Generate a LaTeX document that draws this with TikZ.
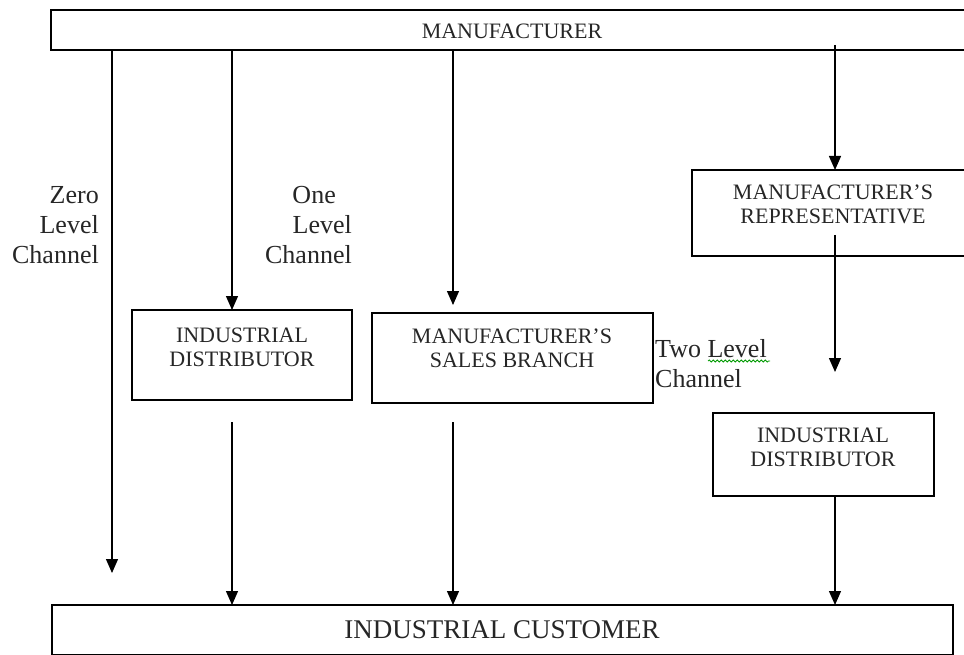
\documentclass[tikz,border=0pt]{standalone}
\usepackage{fontspec}
\setmainfont{Liberation Serif}
\usetikzlibrary{arrows.meta,decorations.pathmorphing}
\begin{document}
\begin{tikzpicture}[x=1pt,y=-1pt,
  boxline/.style={draw=black, line width=1.5pt, inner sep=0pt, outer sep=0pt, anchor=north west},
  boxtext/.style={font=\fontsize{22}{24}\selectfont, align=center, inner sep=0pt, anchor=base, text=black!85},
  lbl/.style={font=\fontsize{26}{30}\selectfont, inner sep=0pt, text=black!85},
  arr/.style={line width=1.3pt, -{Triangle[width=12pt,length=14pt]}}]
\clip (0,0) rectangle (964,655);
% boxes
\node[boxline, minimum width=930pt, minimum height=40pt] (m) at (51,10) {};
\node[boxline, minimum width=300pt, minimum height=86pt] (rep) at (692,170) {};
\node[boxline, minimum width=220pt, minimum height=90pt] (d1) at (132,310) {};
\node[boxline, minimum width=281pt, minimum height=90pt] (sb) at (372,313) {};
\node[boxline, minimum width=221pt, minimum height=83pt] (d2) at (713,413) {};
\node[boxline, minimum width=901pt, minimum height=50pt] (cust) at (52,605) {};
% box texts (base anchor = baseline of last line)
\node[boxtext] (mt) at (512,39) {MANUFACTURER};
\node[boxtext] (rept) at (833,224) {MANUFACTURER’S\\REPRESENTATIVE};
\node[boxtext] (d1t) at (242,366) {INDUSTRIAL\\DISTRIBUTOR};
\node[boxtext] (sbt) at (512,367) {MANUFACTURER’S\\SALES BRANCH};
\node[boxtext] (d2t) at (823,466) {INDUSTRIAL\\DISTRIBUTOR};
\node[boxtext, font=\fontsize{27}{30}\selectfont] (custt) at (502,638) {INDUSTRIAL CUSTOMER};
% channel labels
\node[lbl, align=right, anchor=base east] (zl) at (99,263) {Zero\\Level\\Channel};
\node[lbl, align=right, anchor=base east] (ol) at (352,263) {One\hspace*{16pt}\\Level\\Channel};
\node[lbl, align=left, anchor=base west] (tl) at (655,387) {Two Level\\Channel};
\draw[green!60!black, line width=0.8pt, decorate, decoration={snake, amplitude=1pt, segment length=4pt}] (708,361) -- (770,361);
% coordinates
\coordinate (z1) at (112,573);
\coordinate (c1) at (232,422);
\coordinate (c2t) at (453,305);
\coordinate (c2b) at (453,422);
\coordinate (c3s) at (835,45);
\coordinate (c3a) at (835,235);
\coordinate (c3b) at (835,372);
% connectors
\draw[arr] (m.south -| z1) -- (z1);
\draw[arr] (m.south -| c1) -- (d1.north -| c1);
\draw[arr] (m.south -| c2t) -- (c2t);
\draw[arr] (c3s) -- (rep.north -| c3s);
\draw[arr] (c3a) -- (c3b);
\draw[arr] (c1) -- (cust.north -| c1);
\draw[arr] (c2b) -- (cust.north -| c2b);
\draw[arr] (d2.south -| c3a) -- (cust.north -| c3a);
\end{tikzpicture}
\end{document}
